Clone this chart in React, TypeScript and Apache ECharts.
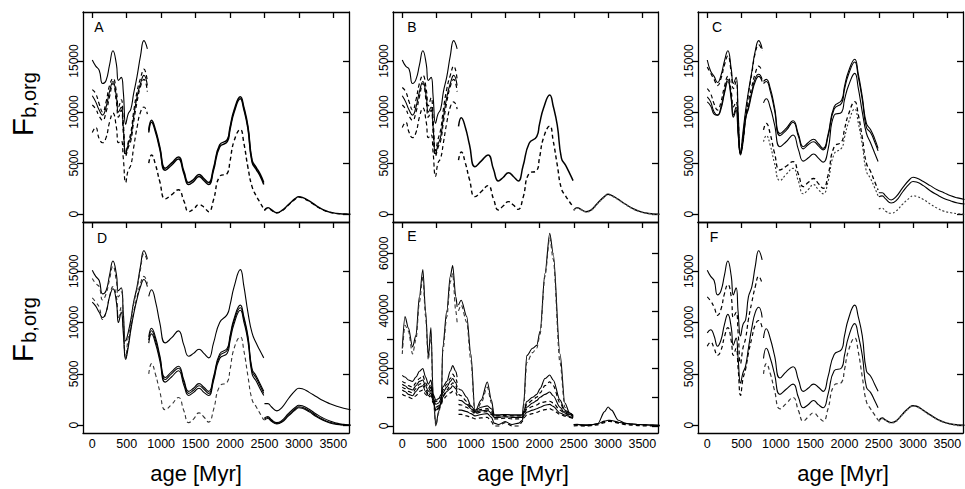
import React, { useEffect, useRef } from "react";
import * as echarts from "echarts";

// ---------- shared ages (Myr) ----------
const X1 = [0, 50, 100, 150, 200, 250, 300, 350, 380, 420, 450, 485, 520, 560, 600, 650, 700, 750, 800];
const X2 = [820, 860, 920, 980, 1060, 1150, 1250, 1330, 1400, 1470, 1550, 1620, 1690, 1760, 1850, 1960, 2000, 2060, 2150, 2200, 2260, 2320, 2380, 2440, 2490];
const X3 = [2500, 2550, 2600, 2680, 2750, 2850, 2950, 3000, 3050, 3150, 3250, 3350, 3450, 3550, 3650, 3750];
const XE1 = [0, 40, 90, 150, 200, 250, 300, 340, 380, 418, 450, 490, 530, 570, 590, 650, 700, 735, 780, 800];
const XE2 = [820, 860, 940, 1000, 1060, 1150, 1240, 1300, 1340, 1400, 1500, 1600, 1700, 1750, 1770, 1815, 1900, 1960, 2010, 2080, 2150, 2200, 2300, 2370, 2440, 2490];

const X_TICKS = [0, 500, 1000, 1500, 2000, 2500, 3000, 3500];
const Y_TICKS = [0, 5000, 10000, 15000];
const E_TICKS = [0, 10000, 20000, 30000, 40000, 50000, 60000];
const E_LABELS = [0, 20000, 40000, 60000];
const PANEL_LETTERS = ["A", "B", "C", "D", "E", "F"];

// ---------- Panel A ----------
const A1_s = [15100, 14500, 14100, 12800, 13100, 14600, 16000, 14700, 13100, 13400, 12000, 8800, 9800, 10300, 11800, 13500, 15500, 17000, 16200];
const A1_d1 = [12200, 11800, 10800, 10000, 11000, 12600, 13300, 12000, 10500, 11200, 9000, 6000, 7000, 8000, 10000, 12000, 13300, 14200, 13000];
const A1_s2 = [11600, 11000, 10200, 9700, 10500, 12000, 13000, 11500, 10000, 10500, 8500, 5900, 6800, 7600, 9500, 11500, 12800, 13600, 12600];
const A1_d2 = [10700, 10300, 9600, 9200, 10000, 11500, 12800, 11000, 9500, 10200, 8000, 5700, 6500, 7200, 9000, 11000, 12500, 13200, 12000];
const A1_d3 = [8000, 8500, 7400, 7000, 7500, 9000, 9900, 8500, 7000, 7200, 5500, 3100, 4300, 4800, 6500, 8500, 10000, 10500, 9800];
const A2_s = [8000, 9000, 8000, 6400, 4300, 4800, 5400, 4000, 2900, 3200, 3700, 3300, 2900, 4300, 6600, 7100, 8300, 10000, 11300, 10300, 8400, 5100, 4400, 3700, 2900];
const A2_s2 = [8200, 9200, 8200, 6600, 4500, 5000, 5600, 4200, 3100, 3400, 3900, 3500, 3100, 4500, 6800, 7300, 8500, 10200, 11500, 10500, 8600, 5300, 4600, 3900, 3100];
const A2_d = [5000, 5800, 4800, 3200, 1500, 1900, 2400, 1300, 250, 500, 950, 700, 250, 1400, 3700, 4000, 5200, 7200, 8300, 7000, 4600, 2700, 1800, 1100, 500];
const A3_s = [400, 650, 450, 150, 350, 950, 1550, 1720, 1650, 1300, 850, 450, 200, 80, 20, 0];
const A3_d = [350, 600, 400, 120, 300, 900, 1500, 1680, 1600, 1250, 800, 420, 180, 60, 10, 0];

// ---------- Panel B ----------
const B1_s = [15100, 14500, 14200, 12800, 13200, 14600, 16000, 14700, 13100, 13400, 11500, 8900, 9800, 10300, 12000, 13500, 15500, 17000, 16200];
const B1_d1 = [12400, 12000, 11000, 10200, 11200, 12800, 13600, 12200, 10600, 11400, 9200, 6200, 7300, 8300, 10300, 12300, 13600, 14500, 13200];
const B1_s2 = [11600, 11000, 10200, 9700, 10500, 12000, 13000, 11500, 10000, 10500, 8500, 5900, 6800, 7600, 9500, 11500, 12800, 13600, 12600];
const B1_d2 = [10700, 10300, 9600, 9200, 10000, 11500, 12800, 11000, 9500, 10200, 8000, 5700, 6500, 7200, 9000, 11000, 12500, 13200, 12000];
const B1_d3 = [8500, 9000, 8000, 7500, 8000, 9500, 10400, 9000, 7500, 7800, 6000, 3700, 5000, 5500, 7000, 9000, 10500, 11000, 10300];
const B2_s = [8600, 9450, 8500, 6800, 4650, 5200, 5800, 4400, 3260, 3600, 4070, 3700, 3260, 4700, 6950, 7600, 8800, 10400, 11670, 10600, 8700, 5500, 4800, 4000, 3290];
const B2_d = [5300, 6100, 5000, 3400, 1720, 2200, 2800, 1500, 420, 800, 1230, 900, 480, 1600, 4010, 4270, 5500, 7500, 8640, 7200, 4800, 2500, 1800, 1200, 740];
const B3_s = [400, 650, 500, 250, 400, 1100, 1750, 1950, 1850, 1450, 1000, 600, 300, 120, 30, 0];
const B3_d = [350, 600, 450, 220, 350, 1050, 1700, 1900, 1800, 1400, 950, 560, 270, 100, 20, 0];

// ---------- Panel C ----------
const C1_s = [15100, 14000, 13500, 12900, 13600, 15000, 16000, 14200, 12800, 13400, 10000, 6000, 8000, 10200, 12000, 14000, 16000, 17000, 16200];
const C1_d1 = [14400, 13800, 13200, 12600, 13300, 14600, 15500, 13800, 12300, 13000, 9500, 6200, 7600, 9800, 11800, 13800, 15800, 16600, 16000];
const C1_d2 = [12300, 11800, 10800, 10200, 11000, 12500, 13500, 12000, 10500, 11000, 8500, 6000, 7000, 9500, 11000, 12500, 13800, 14500, 14000];
const C1_s2 = [11500, 11000, 10000, 9700, 10500, 12000, 13200, 11500, 9700, 10500, 8000, 5800, 7000, 9300, 10500, 12000, 13300, 13700, 13200];
const C1_s3 = [11000, 10600, 9800, 9700, 10300, 11800, 13000, 11200, 9500, 10200, 7800, 5900, 7200, 9500, 10300, 11800, 13000, 13500, 13000];
const C2_s1 = [13000, 13200, 12300, 10500, 7900, 8400, 9160, 7800, 6610, 7000, 7340, 6900, 6450, 7800, 10530, 11180, 12500, 14000, 15170, 13800, 11500, 8900, 8300, 7400, 6450];
const C2_s2 = [12800, 13000, 12000, 10200, 7700, 8200, 9000, 7600, 6400, 6800, 7100, 6700, 6300, 7600, 10300, 10900, 12200, 13700, 14900, 13500, 11200, 8500, 8000, 7100, 6200];
const C2_s3 = [10900, 11300, 10400, 8800, 6610, 7100, 7760, 6300, 5200, 5500, 5900, 5500, 5100, 6300, 9700, 10000, 11200, 12600, 13790, 12400, 10000, 7930, 7000, 6000, 5160];
const C2_d1 = [8250, 8900, 7800, 6000, 4330, 4700, 5160, 3900, 2700, 3100, 3500, 3000, 2540, 3800, 6610, 7100, 8300, 9800, 11020, 9800, 7500, 4990, 4200, 3200, 2380];
const C2_d2 = [7100, 7700, 6700, 5000, 3300, 3900, 4500, 3200, 2000, 2400, 2900, 2400, 2000, 3200, 5900, 6500, 7500, 9000, 10300, 9000, 6800, 4200, 3500, 2600, 1800];
const C3_s1 = [2100, 2100, 1800, 1400, 1700, 2600, 3400, 3620, 3550, 3200, 2800, 2400, 2100, 1800, 1600, 1450];
const C3_s2 = [1700, 1800, 1500, 1100, 1300, 2200, 3000, 3200, 3150, 2800, 2300, 1900, 1550, 1300, 1100, 1000];
const C3_d = [500, 600, 300, 100, 300, 1000, 1600, 1800, 1750, 1450, 1000, 600, 300, 150, 50, 0];

// ---------- Panel D ----------
const D1_s = [15100, 14500, 14100, 12800, 13100, 14600, 16000, 14700, 13100, 13400, 11000, 8200, 9000, 10300, 12000, 13500, 15500, 17000, 16200];
const D1_d1 = [14300, 13800, 13500, 12200, 12800, 14200, 15500, 14000, 12500, 13000, 10500, 6600, 8500, 10000, 11800, 13300, 15200, 16700, 16000];
const D1_d2 = [12400, 12000, 11500, 10300, 11000, 12500, 13500, 12500, 10500, 11500, 9500, 6500, 7800, 9500, 11000, 12500, 13800, 14500, 13800];
const D1_s2 = [12000, 11600, 11000, 10500, 11000, 12500, 13300, 12000, 10000, 11000, 9000, 6400, 7500, 9300, 10800, 12300, 13500, 14200, 13500];
const D2_top = [12560, 13200, 12000, 10000, 8020, 8500, 9190, 7800, 6720, 7000, 7400, 7000, 6560, 8000, 10000, 10800, 11700, 13500, 15160, 13600, 11000, 9000, 8000, 7200, 6560];
const D2_s1 = [8600, 9450, 8500, 6800, 4650, 5200, 5750, 4400, 3300, 3600, 4050, 3700, 3300, 4700, 6950, 7500, 8700, 10400, 11700, 10600, 8700, 5500, 4800, 4000, 3300];
const D2_s2 = [8300, 9200, 8200, 6600, 4450, 5000, 5550, 4200, 3100, 3400, 3850, 3500, 3100, 4500, 6750, 7300, 8500, 10200, 11450, 10400, 8500, 5300, 4600, 3800, 3100];
const D2_s3 = [8000, 8900, 7900, 6300, 4200, 4700, 5300, 3900, 2900, 3200, 3600, 3200, 2900, 4300, 6500, 7000, 8200, 9900, 11200, 10100, 8200, 5000, 4300, 3500, 2900];
const D2_d = [5000, 6000, 4900, 3300, 1500, 2000, 2700, 1400, 250, 600, 1200, 800, 300, 1500, 3800, 4200, 5400, 7500, 8600, 7300, 4800, 2500, 1800, 1100, 500];
const D3_top = [2100, 2100, 1800, 1400, 1700, 2600, 3400, 3600, 3550, 3200, 2800, 2400, 2100, 1850, 1650, 1500];
const D3_s1 = [700, 850, 550, 250, 450, 1150, 1750, 1950, 1900, 1550, 1100, 700, 400, 200, 80, 20];
const D3_s2 = [600, 750, 450, 180, 350, 1000, 1600, 1800, 1750, 1400, 950, 550, 280, 120, 40, 0];
const D3_s3 = [500, 650, 380, 120, 280, 900, 1500, 1700, 1650, 1300, 850, 480, 220, 80, 20, 0];

// ---------- Panel E ----------
const E1_top = [26900, 38000, 34000, 27500, 31500, 45000, 54400, 40000, 24000, 34200, 11000, 200, 5000, 9000, 27500, 40000, 52000, 55800, 45000, 41400];
const E1_topd = [25000, 35000, 33000, 25000, 30000, 43000, 52000, 38000, 23000, 32000, 10000, 0, 4500, 8500, 26000, 38000, 50000, 53000, 40000, 36000];
const E1_l1 = [17600, 17000, 16000, 15500, 17000, 19000, 20000, 17000, 14500, 16000, 11000, 9000, 9500, 11000, 13500, 15500, 19000, 21000, 19000, 17000];
const E1_l2 = [15500, 15000, 14000, 13500, 15000, 16500, 17500, 15000, 13000, 14500, 10000, 8500, 9000, 10000, 12500, 14500, 16500, 18000, 16500, 15000];
const E1_l3 = [14500, 14000, 13000, 12500, 14000, 15500, 16000, 14000, 12000, 13500, 9500, 7500, 8000, 9500, 11500, 13500, 15500, 16500, 15000, 13500];
const E1_l4 = [13500, 13000, 12000, 11500, 13000, 14500, 15000, 13000, 11000, 12500, 9000, 6500, 7000, 8500, 10500, 12500, 14000, 15000, 14000, 12500];
const E1_l5 = [12500, 12000, 11000, 10500, 12000, 13500, 14000, 12000, 10500, 11500, 8500, 5500, 6500, 8000, 10000, 12000, 13000, 14000, 13000, 11500];
const E1_l6 = [11000, 10500, 10000, 9500, 10500, 12000, 12500, 11000, 10000, 10500, 8000, 5000, 6000, 7500, 9000, 10500, 11500, 12000, 11500, 10500];
const E2_top = [42000, 43700, 38000, 25000, 5000, 9000, 15300, 9000, 3800, 3800, 4000, 3800, 3800, 3800, 8000, 24500, 27000, 28000, 33000, 53000, 67000, 60000, 25000, 8000, 4500, 3500];
const E2_topd = [40000, 42000, 36000, 23000, 4000, 8000, 13500, 8000, 3000, 3000, 3200, 3000, 3000, 3000, 7000, 22000, 25500, 27000, 32000, 52000, 65500, 58000, 22000, 6500, 4000, 3000];
const E2_l1 = [13000, 12500, 10000, 7000, 5500, 6500, 7000, 6000, 3800, 3800, 4000, 3800, 3800, 3800, 5000, 8500, 10000, 11000, 13000, 16500, 17700, 16000, 9000, 5500, 4500, 3800];
const E2_l2 = [11000, 10500, 8500, 6500, 5000, 5800, 6000, 5000, 3500, 3500, 3600, 3500, 3500, 3500, 4600, 7500, 9000, 10000, 11500, 14000, 15300, 14000, 8000, 5000, 4200, 3500];
const E2_l3 = [9000, 8800, 7500, 6000, 4800, 5300, 5500, 4500, 3000, 3000, 3200, 3000, 3000, 3000, 4300, 6500, 8000, 8800, 10000, 11000, 11800, 10500, 6500, 4500, 4000, 3300];
const E2_l4 = [7500, 7300, 6500, 5300, 4300, 4800, 5000, 4000, 2500, 2500, 2700, 2500, 2500, 2500, 4000, 5800, 6800, 7300, 8000, 8400, 8600, 8000, 5500, 4300, 3700, 3000];
const E2_l5 = [5500, 5500, 5000, 4300, 3500, 4000, 4300, 3000, 1000, 500, 1500, 500, 1000, 2000, 3500, 4800, 5500, 6000, 6500, 7200, 7500, 6800, 4500, 3800, 3300, 2800];
const E2_l6 = [4000, 4000, 3500, 3000, 2500, 2800, 3000, 1500, 0, 0, 1200, 0, 0, 1500, 2800, 3800, 4300, 4700, 5200, 5700, 6000, 5500, 4000, 3400, 3000, 2500];
const E3_top = [500, 500, 400, 400, 400, 800, 5000, 6600, 5500, 2000, 900, 700, 500, 400, 300, 200];
const E3_l1 = [500, 600, 400, 200, 400, 800, 1700, 2000, 1900, 1300, 900, 700, 500, 400, 300, 200];
const E3_l2 = [300, 400, 200, 100, 300, 700, 1500, 1800, 1700, 1200, 800, 600, 400, 300, 200, 100];
const E3_l3 = [0, 100, 0, 0, 100, 400, 1200, 1600, 1500, 1000, 500, 300, 100, 0, 0, 0];

// ---------- Panel F ----------
const F1_s = [15100, 14500, 14100, 12700, 13100, 14600, 16000, 14500, 12700, 13400, 11000, 8700, 9800, 10300, 12500, 13500, 15500, 17000, 16100];
const F1_d = [12500, 12100, 11500, 10700, 11300, 12800, 13700, 12500, 10500, 11000, 9000, 6000, 7500, 8500, 10300, 12000, 13500, 14500, 13800];
const F1_s2 = [9000, 9300, 8700, 7700, 8300, 9800, 10800, 9500, 7800, 8500, 6500, 4100, 5100, 5800, 7500, 9500, 11000, 11500, 10500];
const F1_d2 = [7700, 8100, 7500, 6800, 7300, 8600, 9500, 8200, 6800, 7500, 5500, 2900, 4500, 5500, 7000, 8500, 9800, 10200, 9500];
const F2_s1 = [8500, 9400, 8400, 6800, 4600, 5200, 5700, 4400, 3300, 3600, 4000, 3700, 3300, 4700, 6900, 7400, 8700, 10400, 11700, 10600, 8700, 5300, 4800, 4000, 3300];
const F2_s2 = [6500, 7500, 6500, 5000, 3000, 3500, 4000, 2700, 1700, 2000, 2400, 2000, 1700, 3000, 5300, 5600, 6800, 8600, 9900, 8800, 6800, 3700, 3200, 2400, 1700];
const F2_d = [5000, 6000, 5000, 3400, 1600, 2100, 2700, 1400, 400, 800, 1200, 800, 400, 1600, 3900, 4200, 5400, 7300, 8500, 7200, 4700, 2300, 1600, 1000, 500];
const F3_s = [400, 700, 500, 250, 400, 1100, 1750, 1900, 1850, 1450, 1000, 600, 300, 120, 30, 0];
const F3_d = [350, 650, 450, 220, 350, 1050, 1700, 1850, 1800, 1400, 950, 560, 270, 100, 20, 0];

// ---------- styles ----------
type Line = { x: number[]; y: number[]; dash?: number[]; w?: number; c?: string };
const DASH = [4, 3];
const DOT = [2, 2];
const S = (x: number[], y: number[], w = 1.1, c = "#000"): Line => ({ x, y, w, c });
const D = (x: number[], y: number[], w = 1.2, c = "#000", dash = DASH): Line => ({ x, y, w, c, dash });

const PANELS: Line[][] = [
  [S(X1, A1_s), D(X1, A1_d1), S(X1, A1_s2), D(X1, A1_d2), D(X1, A1_d3),
   S(X2, A2_s, 1.5), S(X2, A2_s2, 1.5), D(X2, A2_d, 1.4),
   S(X3, A3_s, 1.4), D(X3, A3_d, 1.2)],
  [S(X1, B1_s), D(X1, B1_d1), S(X1, B1_s2), D(X1, B1_d2), D(X1, B1_d3),
   S(X2, B2_s, 1.5), D(X2, B2_d, 1.4),
   S(X3, B3_s, 1.4), D(X3, B3_d, 1.2, "#666", DOT)],
  [S(X1, C1_s), D(X1, C1_d1), D(X1, C1_d2), S(X1, C1_s2), S(X1, C1_s3),
   S(X2, C2_s1), S(X2, C2_s2), S(X2, C2_s3), D(X2, C2_d1, 1.3), D(X2, C2_d2, 1.1, "#333", DOT),
   S(X3, C3_s1), S(X3, C3_s2), D(X3, C3_d, 1.1, "#333", DOT)],
  [S(X1, D1_s), D(X1, D1_d1, 1.1, "#333"), D(X1, D1_d2, 1.1, "#333"), S(X1, D1_s2),
   S(X2, D2_top), S(X2, D2_s1), S(X2, D2_s2), S(X2, D2_s3), D(X2, D2_d, 1.1, "#333"),
   S(X3, D3_top), S(X3, D3_s1), S(X3, D3_s2), S(X3, D3_s3)],
  [S(XE1, E1_top), D(XE1, E1_topd, 1.1, "#333"),
   S(XE1, E1_l1), D(XE1, E1_l2), S(XE1, E1_l3), D(XE1, E1_l4), S(XE1, E1_l5), D(XE1, E1_l6),
   S(XE2, E2_top), D(XE2, E2_topd, 1.1, "#333"),
   S(XE2, E2_l1), D(XE2, E2_l2), S(XE2, E2_l3), D(XE2, E2_l4), S(XE2, E2_l5), D(XE2, E2_l6),
   S(X3, E3_top), S(X3, E3_l1), D(X3, E3_l2), D(X3, E3_l3)],
  [S(X1, F1_s), D(X1, F1_d), S(X1, F1_s2), D(X1, F1_d2),
   S(X2, F2_s1), S(X2, F2_s2), D(X2, F2_d, 1.2, "#333"),
   S(X3, F3_s, 1.4), D(X3, F3_d, 1.2, "#666", DOT)],
];

const GRIDS = [
  { left: 83, top: 12, width: 266, height: 210 },
  { left: 393, top: 12, width: 265, height: 210 },
  { left: 698, top: 12, width: 265, height: 210 },
  { left: 83, top: 222, width: 266, height: 211 },
  { left: 393, top: 222, width: 265, height: 211 },
  { left: 698, top: 222, width: 265, height: 211 },
];

const FONT = "Liberation Sans, Arial, Helvetica, sans-serif";
const AX = { color: "#000", width: 1.3 };
const plain = (v: number) => String(v);

export default function App() {
  const ref = useRef<HTMLDivElement>(null);
  useEffect(() => {
    document.body.style.margin = "0";
    const chart = echarts.init(ref.current!, null, { renderer: "svg" });
    const xAxis: any[] = [];
    const yAxis: any[] = [];
    const series: any[] = [];
    GRIDS.forEach((_, i) => {
      const isE = i === 4;
      const yMin = isE ? -2440 : -760;
      const yMax = isE ? 70900 : 19800;
      xAxis.push({
        type: "value", gridIndex: i, min: -135, max: 3728, position: "bottom",
        axisLine: { show: true, onZero: false, lineStyle: AX },
        axisTick: { show: false }, splitLine: { show: false },
        axisLabel: { show: i >= 3, customValues: X_TICKS, formatter: plain, fontSize: 12.5, color: "#000", margin: 4, fontFamily: FONT },
      });
      xAxis.push({
        type: "value", gridIndex: i, min: -135, max: 3728, position: "top",
        axisLine: { show: true, onZero: false, lineStyle: AX },
        axisTick: { show: true, inside: true, length: 6, customValues: X_TICKS, lineStyle: AX },
        axisLabel: { show: false }, splitLine: { show: false },
      });
      yAxis.push({
        type: "value", gridIndex: i, min: yMin, max: yMax, position: "left",
        axisLine: { show: true, onZero: false, lineStyle: AX },
        axisTick: { show: true, length: 6, customValues: isE ? E_TICKS : Y_TICKS, lineStyle: AX },
        axisLabel: { show: true, rotate: 90, customValues: isE ? E_LABELS : Y_TICKS, formatter: plain, fontSize: 12, color: "#000", margin: 3, fontFamily: FONT },
        splitLine: { show: false },
      });
      yAxis.push({
        type: "value", gridIndex: i, min: yMin, max: yMax, position: "right",
        axisLine: { show: true, onZero: false, lineStyle: AX },
        axisTick: { show: true, inside: true, length: 6, customValues: isE ? E_TICKS : Y_TICKS, lineStyle: AX },
        axisLabel: { show: false }, splitLine: { show: false },
      });
      PANELS[i].forEach((ln) => {
        series.push({
          type: "line", xAxisIndex: 2 * i, yAxisIndex: 2 * i,
          data: ln.x.map((x, k) => [x, ln.y[k]]),
          showSymbol: false, symbol: "none", smooth: isE ? 0.3 : 0.5, smoothMonotone: isE ? "x" : undefined, silent: true,
          lineStyle: { color: ln.c, width: ln.w, type: ln.dash ? ln.dash : "solid" },
        });
      });
    });

    const letterPos = [[99, 27], [412, 27], [717, 27], [102, 238], [412, 236], [714, 237]];
    const graphic: any[] = letterPos.map((p, i) => ({
      type: "text", x: p[0], y: p[1],
      style: { text: PANEL_LETTERS[i], fontSize: 14, fontFamily: FONT, fill: "#000", align: "center", verticalAlign: "middle" },
    }));
    [[127, 95], [353, 320]].forEach(([fy, sy]) => {
      graphic.push({ type: "text", x: 22, y: fy, rotation: Math.PI / 2,
        style: { text: "F", fontSize: 30, fontFamily: FONT, fill: "#000", align: "center", verticalAlign: "middle" } });
      graphic.push({ type: "text", x: 29, y: sy, rotation: Math.PI / 2,
        style: { text: "b,org", fontSize: 20, fontFamily: FONT, fill: "#000", align: "center", verticalAlign: "middle" } });
    });
    [196, 523, 843].forEach((cx) => {
      graphic.push({ type: "text", x: cx, y: 473,
        style: { text: "age [Myr]", fontSize: 22, fontFamily: FONT, fill: "#000", align: "center", verticalAlign: "middle" } });
    });

    chart.setOption({
      animation: false,
      backgroundColor: "#fff",
      grid: GRIDS.map((g) => ({ ...g, containLabel: false })),
      xAxis, yAxis, series, graphic,
    });
    return () => chart.dispose();
  }, []);
  return <div ref={ref} style={{ width: 965, height: 489 }} />;
}
